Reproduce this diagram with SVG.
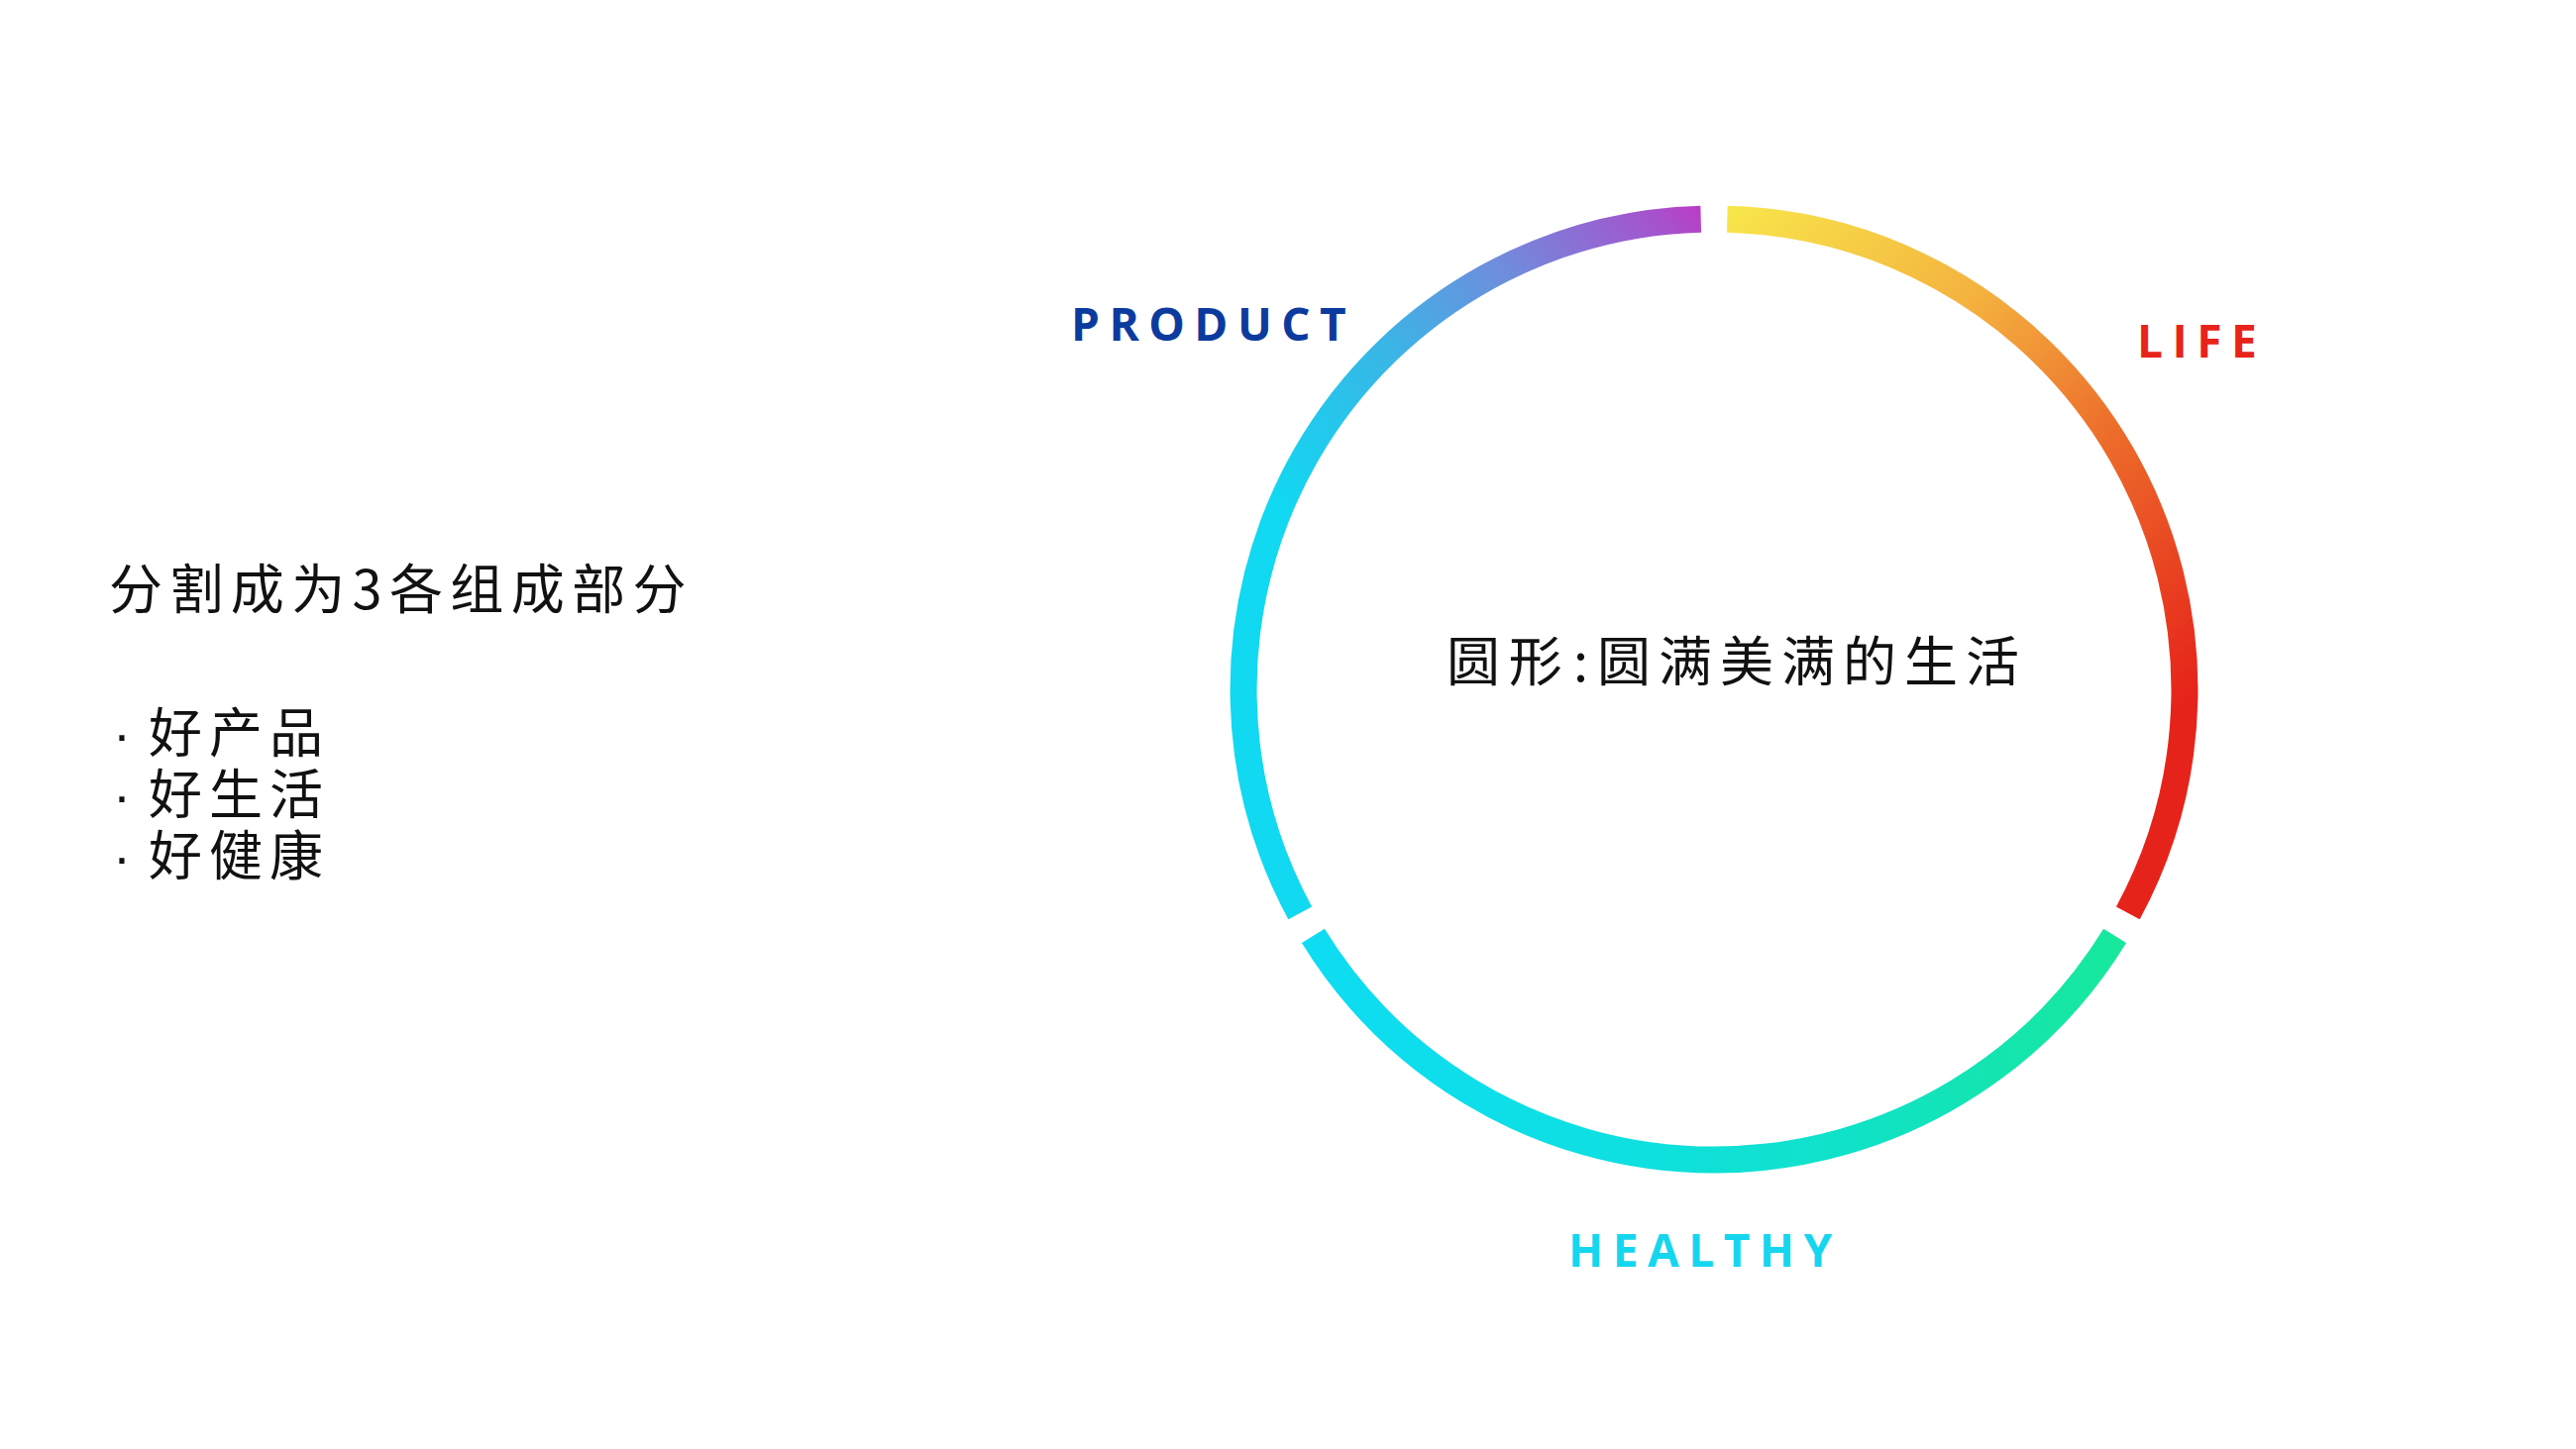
<svg xmlns="http://www.w3.org/2000/svg" width="2600" height="1463" viewBox="0 0 2600 1463">
  <defs>
    <linearGradient id="gLife" gradientUnits="userSpaceOnUse" x1="1740" y1="215" x2="2215" y2="700">
      <stop offset="0" stop-color="#f8e64b"/>
      <stop offset="0.35" stop-color="#f4b23f"/>
      <stop offset="0.65" stop-color="#ec6a2a"/>
      <stop offset="1" stop-color="#e6231a"/>
    </linearGradient>
    <linearGradient id="gProduct" gradientUnits="userSpaceOnUse" x1="1330" y1="560" x2="1716" y2="215">
      <stop offset="0" stop-color="#10d9f1"/>
      <stop offset="0.37" stop-color="#3ab5e6"/>
      <stop offset="0.64" stop-color="#6f8ddc"/>
      <stop offset="0.93" stop-color="#a652cc"/>
      <stop offset="1" stop-color="#b93ec7"/>
    </linearGradient>
    <linearGradient id="gHealthy" gradientUnits="userSpaceOnUse" x1="1330" y1="945" x2="2135" y2="945">
      <stop offset="0" stop-color="#0edcf2"/>
      <stop offset="0.4" stop-color="#0ee0e0"/>
      <stop offset="0.7" stop-color="#10e2c4"/>
      <stop offset="1" stop-color="#17e89c"/>
    </linearGradient>
  </defs>
  <style>
    .seg { fill: none; stroke-width: 27; stroke-linecap: butt; }
    .lbl { font-family: "Open Sans", "Liberation Sans", sans-serif; font-weight: 700; font-size: 46px; }
    .cjk { font-family: "Noto Sans CJK SC", "Noto Sans", sans-serif; font-size: 54px; fill: #111111; }
    .dot { font-family: "Liberation Sans", sans-serif; }
  </style>
  <rect x="0" y="0" width="2600" height="1463" fill="#ffffff"/>

  <g id="intro">
    <text class="cjk" x="110" y="615" letter-spacing="7.4">分割成为3各组成部分</text>
    <text class="cjk" id="list"><tspan class="dot" x="114" y="760">·</tspan><tspan x="150" y="760" letter-spacing="7">好产品</tspan><tspan class="dot" x="114" y="822">·</tspan><tspan x="150" y="822" letter-spacing="7">好生活</tspan><tspan class="dot" x="114" y="884">·</tspan><tspan x="150" y="884" letter-spacing="7">好健康</tspan></text>
  </g>

  <g id="center">
    <text class="cjk" x="1460" y="688"><tspan letter-spacing="8.8">圆形</tspan><tspan x="1588">:</tspan><tspan x="1612" letter-spacing="8">圆满美满的生活</tspan></text>
  </g>

  <g id="product">
    <path class="seg" stroke="url(#gProduct)" d="M1312.2,921.9 A475,475 0 0 1 1716.7,221.2"/>
    <text class="lbl" x="1081" y="344" fill="#0b3b9e" letter-spacing="9.5">PRODUCT</text>
  </g>

  <g id="life">
    <path class="seg" stroke="url(#gLife)" d="M1743.3,221.2 A475,475 0 0 1 2147.8,921.9"/>
    <text class="lbl" x="2157" y="361" fill="#e8231a" letter-spacing="9.5">LIFE</text>
  </g>

  <g id="healthy">
    <path class="seg" stroke="url(#gHealthy)" d="M2134.6,944.9 A475,475 0 0 1 1325.4,944.9"/>
    <text class="lbl" x="1583" y="1279" fill="#16d6ef" letter-spacing="9.5">HEALTHY</text>
  </g>

  <g id="connectors"></g>
</svg>
